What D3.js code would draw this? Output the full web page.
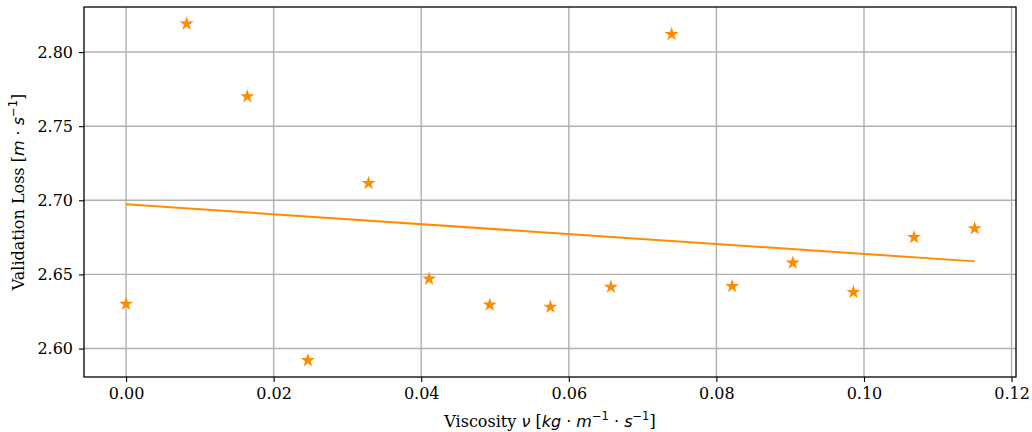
<!DOCTYPE html>
<html>
<head>
<meta charset="utf-8">
<script src="https://cdn.jsdelivr.net/npm/d3@7"></script>
<style>
  body { margin: 0; background: #fff; }
  .tick text { font-family: "DejaVu Serif", serif; font-size: 16px; fill: #000; }
  .lbl { font-family: "DejaVu Serif", serif; font-size: 16px; fill: #000; }
  .math { font-family: "DejaVu Sans", sans-serif; font-style: italic; }
  .op { font-family: "DejaVu Sans", sans-serif; }
  .sup { font-family: "DejaVu Sans", sans-serif; font-size: 11.5px; }
</style>
</head>
<body>
<svg id="chart" width="1032" height="432"></svg>
<script>
const viscosity = [0.0, 0.00821, 0.01643, 0.02464, 0.03286, 0.04107, 0.04929, 0.0575,
                   0.06571, 0.07393, 0.08214, 0.09036, 0.09857, 0.10679, 0.115];
const valLoss = [2.630, 2.819, 2.770, 2.592, 2.7115, 2.647, 2.6295, 2.628,
                 2.6415, 2.812, 2.642, 2.6578, 2.638, 2.675, 2.681];
// fitted trend line
const fitX = [0.0, 0.115];
const fitY = [2.6973, 2.6588];
const xTicks = [0.00, 0.02, 0.04, 0.06, 0.08, 0.10, 0.12];
const yTicks = [2.60, 2.65, 2.70, 2.75, 2.80];

const svg = d3.select("#chart");
const margin = { left: 84, right: 16, top: 7, bottom: 55 };
const width = 1032 - margin.left - margin.right;
const height = 432 - margin.top - margin.bottom;
const color = "#ff8c00";

const x = d3.scaleLinear().domain([-0.0057, 0.1206]).range([0, width]);
const y = d3.scaleLinear().domain([2.5808, 2.8304]).range([height, 0]);

const g = svg.append("g").attr("transform", `translate(${margin.left},${margin.top})`);

// grid
g.append("g").selectAll("line").data(xTicks).join("line")
  .attr("x1", d => x(d)).attr("x2", d => x(d)).attr("y1", 0).attr("y2", height)
  .attr("stroke", "#b0b0b0").attr("stroke-width", 1.4);
g.append("g").selectAll("line").data(yTicks).join("line")
  .attr("y1", d => y(d)).attr("y2", d => y(d)).attr("x1", 0).attr("x2", width)
  .attr("stroke", "#b0b0b0").attr("stroke-width", 1.4);

// fit line
const line = d3.line().x(d => x(d[0])).y(d => y(d[1]));
g.append("path")
  .datum(fitX.map((v, i) => [v, fitY[i]]))
  .attr("d", line).attr("fill", "none").attr("stroke", color).attr("stroke-width", 2);

// star markers
const star = d3.symbol().type(d3.symbolStar).size(62);
g.append("g").selectAll("path").data(viscosity).join("path")
  .attr("d", star)
  .attr("transform", (d, i) => `translate(${x(d)},${y(valLoss[i])})`)
  .attr("fill", color);

// axes
const xAxis = g.append("g").attr("transform", `translate(0,${height})`)
  .call(d3.axisBottom(x).tickValues(xTicks).tickFormat(d3.format(".2f")).tickSize(5).tickPadding(6));
const yAxis = g.append("g")
  .call(d3.axisLeft(y).tickValues(yTicks).tickFormat(d3.format(".2f")).tickSize(5).tickPadding(6));
[xAxis, yAxis].forEach(a => {
  a.select(".domain").remove();
  a.selectAll(".tick line").attr("stroke", "#000").attr("stroke-width", 1.1);
});

// frame
g.append("rect").attr("width", width).attr("height", height)
  .attr("fill", "none").attr("stroke", "#000").attr("stroke-width", 1.3);

// labels
const xl = svg.append("text").attr("class", "lbl")
  .attr("x", margin.left + width / 2).attr("y", 427).attr("text-anchor", "middle");
xl.append("tspan").text("Viscosity ");
xl.append("tspan").attr("class", "math").text("ν");
xl.append("tspan").text(" [");
xl.append("tspan").attr("class", "math").text("kg");
xl.append("tspan").attr("class", "op").text(" · ");
xl.append("tspan").attr("class", "math").text("m");
xl.append("tspan").attr("class", "sup").attr("dy", -7).text("−1");
xl.append("tspan").attr("class", "op").attr("dy", 7).text(" · ");
xl.append("tspan").attr("class", "math").text("s");
xl.append("tspan").attr("class", "sup").attr("dy", -7).text("−1");
xl.append("tspan").attr("dy", 7).text("]");

const yl = svg.append("text").attr("class", "lbl")
  .attr("transform", `translate(24,${margin.top + height / 2}) rotate(-90)`)
  .attr("text-anchor", "middle");
yl.append("tspan").text("Validation Loss [");
yl.append("tspan").attr("class", "math").text("m");
yl.append("tspan").attr("class", "op").text(" · ");
yl.append("tspan").attr("class", "math").text("s");
yl.append("tspan").attr("class", "sup").attr("dy", -7).text("−1");
yl.append("tspan").attr("dy", 7).text("]");
</script>
</body>
</html>
